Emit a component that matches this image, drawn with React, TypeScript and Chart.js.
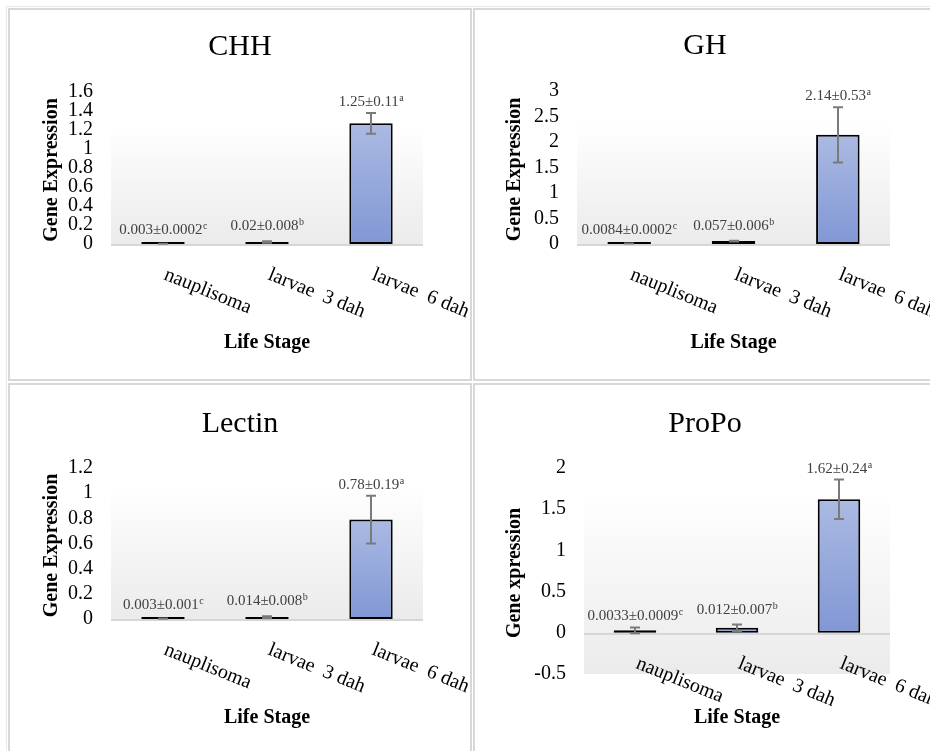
import React, { useEffect, useRef } from 'react';
import { Chart, registerables } from 'chart.js';

Chart.register(...registerables);

const FONT = "'Liberation Serif', 'Times New Roman', serif";

// ---- data ----
const categories = ['nauplisoma', 'larvae  3 dah', 'larvae  6 dah'];
const xAxisTitle = 'Life Stage';
const letters = ['c', 'b', 'a'];

const chhValues = [0.003, 0.02, 1.27];
const chhErrors = [0.0002, 0.008, 0.11];
const chhLabels = ['0.003±0.0002', '0.02±0.008', '1.25±0.11'];
const chhRange = [0, 1.6, 0.2];

const ghValues = [0.0084, 0.057, 2.14];
const ghErrors = [0.0002, 0.006, 0.54];
const ghLabels = ['0.0084±0.0002', '0.057±0.006', '2.14±0.53'];
const ghRange = [0, 3, 0.5];

const lectinValues = [0.003, 0.014, 0.79];
const lectinErrors = [0.001, 0.008, 0.19];
const lectinLabels = ['0.003±0.001', '0.014±0.008', '0.78±0.19'];
const lectinRange = [0, 1.2, 0.2];

const propoValues = [0.03, 0.06, 1.62];
const propoErrors = [0.035, 0.04, 0.24];
const propoLabels = ['0.0033±0.0009', '0.012±0.007', '1.62±0.24'];
const propoRange = [-0.5, 2, 0.5];

// ---- styles / layout ----
const CW = 460;
const CH = 368;
const LABEL_GAP = [10, 11, 7];

type Panel = {
  title: string;
  yTitle: string;
  values: number[];
  errors: number[];
  labels: string[];
  range: number[];
  pos: { left: number; top: number };
  area: { l: number; t: number; r: number; b: number };
  titleY: number;
  yTitleX: number;
  bgTop: number;
};

const panels: Panel[] = [
  {
    title: 'CHH', yTitle: 'Gene Expression', values: chhValues, errors: chhErrors, labels: chhLabels, range: chhRange,
    pos: { left: 10, top: 10 }, area: { l: 101, t: 82, r: 413, b: 234 }, titleY: 45, yTitleX: 42, bgTop: 1.27,
  },
  {
    title: 'GH', yTitle: 'Gene Expression', values: ghValues, errors: ghErrors, labels: ghLabels, range: ghRange,
    pos: { left: 475, top: 10 }, area: { l: 102, t: 81, r: 415, b: 234 }, titleY: 44, yTitleX: 40, bgTop: 2.37,
  },
  {
    title: 'Lectin', yTitle: 'Gene Expression', values: lectinValues, errors: lectinErrors, labels: lectinLabels, range: lectinRange,
    pos: { left: 10, top: 385 }, area: { l: 101, t: 83, r: 413, b: 234 }, titleY: 47, yTitleX: 42, bgTop: 1.08,
  },
  {
    title: 'ProPo', yTitle: 'Gene xpression', values: propoValues, errors: propoErrors, labels: propoLabels, range: propoRange,
    pos: { left: 475, top: 385 }, area: { l: 109, t: 83, r: 415, b: 289 }, titleY: 47, yTitleX: 40, bgTop: 1.72,
  },
];

const makeDeco = (p: Panel) => ({
  id: 'deco' + p.title,
  beforeDatasetsDraw(chart: any) {
    const { ctx, chartArea: a } = chart;
    const ys = chart.scales.y;
    ctx.save();
    const top = ys.getPixelForValue(p.bgTop);
    const g = ctx.createLinearGradient(0, top, 0, a.bottom);
    g.addColorStop(0, '#ffffff');
    g.addColorStop(1, '#ebebeb');
    ctx.fillStyle = g;
    ctx.fillRect(a.left, top, a.right - a.left, a.bottom - top);
    const y0 = ys.getPixelForValue(0);
    ctx.fillStyle = '#d6d6d6';
    ctx.fillRect(a.left, Math.round(y0), a.right - a.left, 2);
    ctx.restore();
  },
  afterDatasetsDraw(chart: any) {
    const { ctx, chartArea: a } = chart;
    const xs = chart.scales.x;
    const ys = chart.scales.y;
    ctx.save();
    // error bars
    ctx.strokeStyle = '#7a7a7a';
    ctx.lineWidth = 2;
    p.values.forEach((v, i) => {
      const x = Math.round(xs.getPixelForValue(i));
      const yt = ys.getPixelForValue(v + p.errors[i]);
      const yb = ys.getPixelForValue(v - p.errors[i]);
      ctx.beginPath();
      ctx.moveTo(x, yt);
      ctx.lineTo(x, yb);
      ctx.moveTo(x - 5, yt);
      ctx.lineTo(x + 5, yt);
      ctx.moveTo(x - 5, yb);
      ctx.lineTo(x + 5, yb);
      ctx.stroke();
    });
    // data labels with superscript letters
    ctx.textAlign = 'left';
    ctx.textBaseline = 'alphabetic';
    p.labels.forEach((t, i) => {
      const cx = xs.getPixelForValue(i);
      const anchor = i === 0 ? p.values[i] : p.values[i] + p.errors[i];
      const by = ys.getPixelForValue(anchor) - LABEL_GAP[i];
      ctx.font = `15px ${FONT}`;
      const w1 = ctx.measureText(t).width;
      ctx.font = `10px ${FONT}`;
      const w2 = ctx.measureText(letters[i]).width;
      const sx = cx - (w1 + w2) / 2;
      ctx.fillStyle = '#404040';
      ctx.font = `15px ${FONT}`;
      ctx.fillText(t, sx, by);
      ctx.font = `10px ${FONT}`;
      ctx.fillText(letters[i], sx + w1 + 0.5, by - 5);
    });
    // rotated category labels
    const y0 = ys.getPixelForValue(0);
    ctx.fillStyle = '#000';
    ctx.font = `20px ${FONT}`;
    categories.forEach((c, i) => {
      const cx = xs.getPixelForValue(i);
      ctx.save();
      ctx.translate(cx, y0 + 35);
      ctx.rotate((22 * Math.PI) / 180);
      ctx.fillText(c, 0, 0);
      ctx.restore();
    });
    // chart title
    ctx.textAlign = 'center';
    ctx.font = `30px ${FONT}`;
    ctx.fillText(p.title, chart.width / 2, p.titleY);
    // x axis title
    ctx.font = `bold 20px ${FONT}`;
    ctx.fillText(xAxisTitle, (a.left + a.right) / 2, 338);
    // y axis title
    ctx.save();
    ctx.translate(p.yTitleX, (a.top + a.bottom) / 2 + 2);
    ctx.rotate(-Math.PI / 2);
    ctx.textBaseline = 'middle';
    ctx.fillText(p.yTitle, 0, 0);
    ctx.restore();
    ctx.restore();
  },
});

function PanelChart({ p }: { p: Panel }) {
  const ref = useRef<HTMLCanvasElement>(null);
  useEffect(() => {
    const canvas = ref.current;
    if (!canvas) return;
    const chart = new Chart(canvas, {
      type: 'bar',
      data: {
        labels: categories,
        datasets: [
          {
            data: p.values,
            backgroundColor: (c: any) => {
              const ch = c.chart;
              if (!ch.chartArea) return '#92a5da';
              const ys = ch.scales.y;
              const top = ys.getPixelForValue(c.raw);
              const bot = ys.getPixelForValue(0);
              if (Math.abs(bot - top) < 2) return '#8499d6';
              const g = ch.ctx.createLinearGradient(0, top, 0, bot);
              g.addColorStop(0, '#abbae2');
              g.addColorStop(1, '#8197d5');
              return g;
            },
            borderColor: '#000000',
            borderWidth: 2,
            borderSkipped: false,
            barPercentage: 0.417,
            categoryPercentage: 1,
            minBarLength: 2,
          },
        ],
      },
      options: {
        responsive: false,
        animation: false,
        devicePixelRatio: 1,
        layout: { padding: { left: 0, top: p.area.t, right: CW - p.area.r, bottom: CH - p.area.b } },
        plugins: { legend: { display: false }, tooltip: { enabled: false }, title: { display: false } },
        scales: {
          x: { display: false },
          y: {
            min: p.range[0],
            max: p.range[1],
            ticks: {
              stepSize: p.range[2],
              autoSkip: false,
              padding: 18,
              color: '#000',
              font: { family: FONT, size: 20 },
              callback: (v: any) => String(Number(Number(v).toFixed(2))),
            },
            grid: { display: false, drawTicks: false },
            border: { display: false },
            afterFit: (s: any) => {
              s.width = p.area.l;
            },
          },
        },
      },
      plugins: [makeDeco(p)],
    } as any);
    return () => chart.destroy();
  }, [p]);
  return (
    <canvas
      ref={ref}
      width={CW}
      height={CH}
      style={{ position: 'absolute', left: p.pos.left, top: p.pos.top, width: CW, height: CH, display: 'block' }}
    />
  );
}

const cellStyle = (left: number, top: number, width: number, height: number): React.CSSProperties => ({
  position: 'absolute',
  left,
  top,
  width,
  height,
  boxSizing: 'border-box',
  border: '2px solid #d8d8d8',
  background: '#ffffff',
});

export default function App() {
  return (
    <div style={{ position: 'fixed', left: 0, top: 0, width: 930, height: 751, overflow: 'hidden', background: '#ffffff' }}>
      <div style={{ position: 'absolute', left: 6, top: 6, width: 1200, height: 1200, border: '1px solid #e8e8e8' }} />
      <div style={cellStyle(8, 8, 464, 373)} />
      <div style={cellStyle(473, 8, 600, 373)} />
      <div style={cellStyle(8, 383, 464, 600)} />
      <div style={cellStyle(473, 383, 600, 600)} />
      {panels.map((p) => (
        <PanelChart key={p.title} p={p} />
      ))}
    </div>
  );
}
